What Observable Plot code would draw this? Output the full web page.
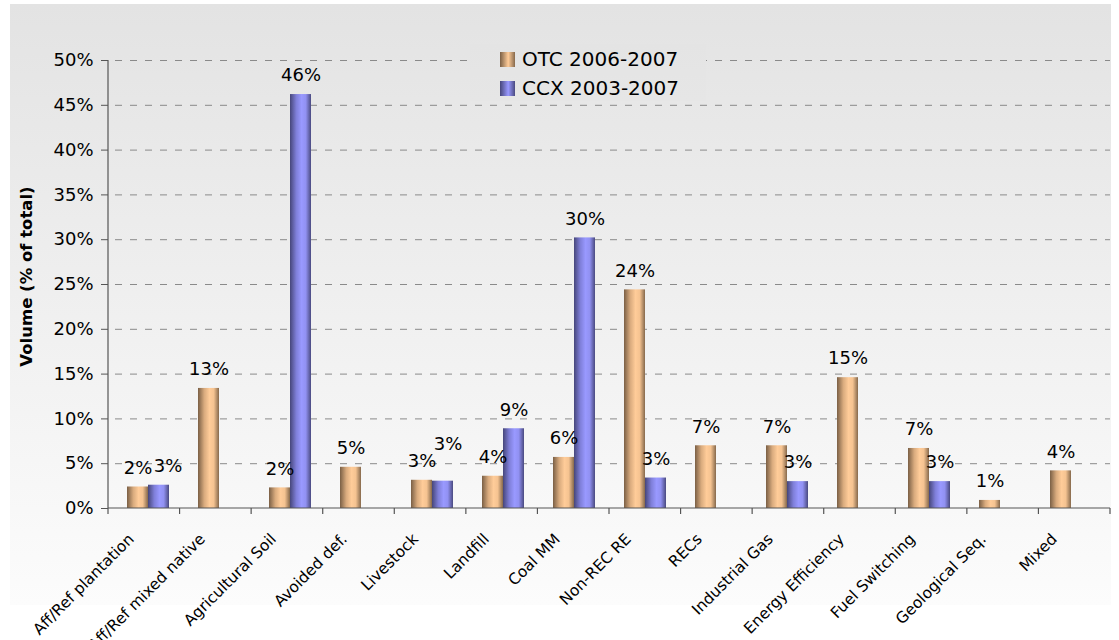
<!DOCTYPE html>
<html><head><meta charset="utf-8">
<script src="https://cdn.jsdelivr.net/npm/d3@7"></script>
<script src="https://cdn.jsdelivr.net/npm/@observablehq/plot@0.6"></script>
<style>
body{margin:0;background:#fff;font-family:"DejaVu Sans",sans-serif;}
#wrap{position:relative;width:1119px;height:640px;overflow:hidden;}
#bg{position:absolute;left:10px;top:4px;width:1101px;height:601px;background:linear-gradient(#e3e3e3,#fcfcfc);}
#chart{position:absolute;left:0;top:0;}
#legend{position:absolute;left:470px;top:44px;width:236px;height:57px;background:linear-gradient(#e4e4e4,#e6e6e6);}
.li{position:absolute;left:30px;height:20px;font-size:20px;line-height:20px;color:#000;white-space:nowrap;}
.sw{position:absolute;left:0;top:3px;width:15px;height:15px;}
.lt{position:absolute;left:22px;top:0;}
</style></head>
<body>
<div id="wrap"><div id="bg"></div><div id="chart"></div>
<div id="legend"></div></div>
<script>
const categories = ["Aff/Ref plantation","Aff/Ref mixed native","Agricultural Soil","Avoided def.","Livestock","Landfill","Coal MM","Non-REC RE","RECs","Industrial Gas","Energy Efficiency","Fuel Switching","Geological Seq.","Mixed"];
const otcValues = [2.4, 13.4, 2.3, 4.6, 3.15, 3.6, 5.7, 24.4, 7.0, 7.0, 14.6, 6.7, 0.9, 4.2];
const ccxValues = [2.6, null, 46.2, null, 3.05, 8.9, 30.2, 3.4, null, 3.0, null, 3.0, null, null];
const seriesNames = ["OTC 2006-2007", "CCX 2003-2007"];
const yTicks = [0, 5, 10, 15, 20, 25, 30, 35, 40, 45, 50];

const W = 1119, H = 640, mL = 108, mR = 9, mT = 60, mB = 132;
const step = (W - mL - mR) / categories.length;
const barW = 21;
const pInner = 1 - 2 * barW / step;

const otc = categories.map((c, i) => ({cat: c, value: otcValues[i]})).filter(d => d.value != null);
const ccx = categories.map((c, i) => ({cat: c, value: ccxValues[i]})).filter(d => d.value != null);

// label placement nudges (Excel collision avoidance) for CCX labels
const isPlantation = d => d.cat === "Aff/Ref plantation";
const isLivestock = d => d.cat === "Livestock";

const lbl = d => Math.round(d.value) + "%";

function axisLines(index, scales, values, dims) {
  const g = d3.create("svg:g");
  const y0 = scales.y(0), y1 = scales.y(50);
  g.append("line").attr("x1", dims.marginLeft).attr("x2", dims.marginLeft)
    .attr("y1", y1).attr("y2", y0).attr("stroke", "#555").attr("stroke-width", 1.2);
  g.append("line").attr("x1", dims.marginLeft).attr("x2", dims.width - dims.marginRight)
    .attr("y1", y0).attr("y2", y0).attr("stroke", "#555").attr("stroke-width", 1.2);
  const st = (dims.width - dims.marginLeft - dims.marginRight) / categories.length;
  for (let i = 0; i <= categories.length; i++) {
    const x = dims.marginLeft + i * st;
    g.append("line").attr("x1", x).attr("x2", x).attr("y1", y0).attr("y2", y0 + 6)
      .attr("stroke", "#555").attr("stroke-width", 1.2);
  }
  return g.node();
}

const svg = Plot.plot({
  width: W, height: H,
  marginLeft: mL, marginRight: mR, marginTop: mT, marginBottom: mB,
  style: {background: "transparent", fontFamily: "DejaVu Sans", color: "#000", overflow: "visible"},
  x: {domain: categories, paddingInner: pInner, paddingOuter: pInner / 2, label: null},
  y: {domain: [0, 50], label: null},
  marks: [
    Plot.gridY(yTicks.filter(t => t > 0), {stroke: "#8a8a8a", strokeOpacity: 1, strokeDasharray: "7,8", strokeDashoffset: -7}),
    Plot.barY(otc, {x: "cat", y: "value", fill: "url(#gOTC)", insetRight: barW}),
    Plot.barY(ccx, {x: "cat", y: "value", fill: "url(#gCCX)", insetLeft: barW}),
    Plot.text(otc, {x: "cat", y: "value", text: lbl, dx: -barW / 2, dy: -19, fontSize: 18, fill: "#000"}),
    Plot.text(ccx, {x: "cat", y: "value", text: lbl, dx: barW / 2, dy: -19, fontSize: 18, fill: "#000", filter: d => !isLivestock(d) && !isPlantation(d)}),
    Plot.text(ccx, {x: "cat", y: "value", text: lbl, dx: barW / 2 + 9, dy: -19, fontSize: 18, fill: "#000", filter: isPlantation}),
    Plot.text(ccx, {x: "cat", y: "value", text: lbl, dx: barW / 2 + 5, dy: -37, fontSize: 18, fill: "#000", filter: isLivestock}),
    Plot.axisY({ticks: yTicks, tickFormat: d => d + "%", tickSize: 7, tickPadding: 8, fontSize: 18, stroke: "#555", label: null}),
    Plot.axisX({tickRotate: -45, tickSize: 0, tickPadding: 22, dx: -17, dy: 6, fontSize: 15.5, label: null}),
    axisLines,
    Plot.text(["Volume (% of total)"], {frameAnchor: "left", textAnchor: "middle", dx: -82, dy: -8, rotate: -90, fontSize: 16.5, fontWeight: "bold", fill: "#000"})
  ]
});

const defs = d3.select(svg).insert("defs", ":first-child");
function grad(id, stops) {
  const lg = defs.append("linearGradient").attr("id", id).attr("x1", 0).attr("x2", 1).attr("y1", 0).attr("y2", 0);
  stops.forEach(([o, c]) => lg.append("stop").attr("offset", o).attr("stop-color", c));
}
grad("gOTC", [[0, "#7a5f45"], [0.3, "#d9ab7e"], [0.55, "#ffcc99"], [0.75, "#f5c391"], [1, "#86694c"]]);
grad("gCCX", [[0, "#46467a"], [0.3, "#7f7fd9"], [0.55, "#9999ff"], [0.75, "#9191f2"], [1, "#4a4a80"]]);

document.getElementById("chart").appendChild(svg);

const legend = d3.select("#legend");
const swatchFill = ["linear-gradient(90deg,#7a5f45,#ffcc99 55%,#86694c)", "linear-gradient(90deg,#46467a,#9999ff 55%,#4a4a80)"];
seriesNames.forEach((s, i) => {
  const it = legend.append("div").attr("class", "li").style("top", (5 + i * 29) + "px");
  it.append("div").attr("class", "sw").style("background", swatchFill[i]);
  it.append("div").attr("class", "lt").text(s);
});
</script>
</body></html>
